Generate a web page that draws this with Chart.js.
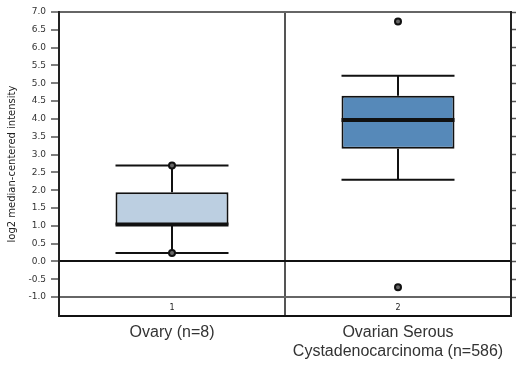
<!DOCTYPE html>
<html>
<head>
<meta charset="utf-8">
<script src="https://cdn.jsdelivr.net/npm/chart.js@4/dist/chart.umd.min.js"></script>
<style>
  html, body { margin: 0; padding: 0; background: #fff; }
  #wrap { width: 517px; height: 365px; }
</style>
</head>
<body>
<div id="wrap"><canvas id="c"></canvas></div>
<script>
// Groups and their box-plot statistics (log2 median-centered intensity)
const categories = ['Ovary (n=8)', ['Ovarian Serous', 'Cystadenocarcinoma (n=586)']];
const groupIds = ['1', '2'];
const q1Values = [1.02, 3.16];
const q3Values = [1.94, 4.65];
const medianValues = [1.04, 3.97];
const whiskerLow = [0.24, 2.29];
const whiskerHigh = [2.69, 5.21];
const pointsHigh = [2.69, 6.73];
const pointsLow = [0.24, -0.72];
const boxColors = ['#bccfe1', '#5689b9'];
const yTickValues = [-1.0, -0.5, 0.0, 0.5, 1.0, 1.5, 2.0, 2.5, 3.0, 3.5, 4.0, 4.5, 5.0, 5.5, 6.0, 6.5, 7.0];
const yMin = -1.53;
const yMax = 7.0;

const setTicks = s => { s.ticks = yTickValues.map(v => ({ value: v })); };

// Whiskers, caps, medians and group numbers drawn on the chart's own scales
const boxPlotParts = {
  id: 'boxPlotParts',
  afterDatasetDraw(chart, args) {
    if (args.index !== 0) return;
    const ctx = chart.ctx;
    const xs = chart.scales.x, ys = chart.scales.y;
    const bars = chart.getDatasetMeta(0).data;
    ctx.save();
    ctx.strokeStyle = '#111';
    ctx.lineCap = 'butt';
    categories.forEach((c, i) => {
      const cx = xs.getPixelForValue(i);
      const half = bars[i].width / 2;
      const yHi = ys.getPixelForValue(whiskerHigh[i]);
      const yLo = ys.getPixelForValue(whiskerLow[i]);
      const yQ3 = ys.getPixelForValue(q3Values[i]);
      const yQ1 = ys.getPixelForValue(q1Values[i]);
      ctx.lineWidth = 2;
      ctx.beginPath();
      ctx.moveTo(cx, yQ3); ctx.lineTo(cx, yHi);
      ctx.moveTo(cx, yQ1); ctx.lineTo(cx, yLo);
      ctx.moveTo(cx - half, yHi); ctx.lineTo(cx + half, yHi);
      ctx.moveTo(cx - half, yLo); ctx.lineTo(cx + half, yLo);
      ctx.stroke();
      const yMed = ys.getPixelForValue(medianValues[i]);
      ctx.lineWidth = 4;
      ctx.beginPath();
      ctx.moveTo(cx - half, yMed); ctx.lineTo(cx + half, yMed);
      ctx.stroke();
    });
    // group numbers in the strip below -1.0
    const area = chart.chartArea;
    const yRow = (ys.getPixelForValue(-1.0) + area.bottom) / 2 + 1;
    ctx.fillStyle = '#222';
    ctx.font = '8px "DejaVu Sans"';
    ctx.textAlign = 'center';
    ctx.textBaseline = 'middle';
    groupIds.forEach((g, i) => ctx.fillText(g, xs.getPixelForValue(i), yRow));
    ctx.restore();
  }
};

const pointStyle = {
  type: 'line',
  showLine: false,
  pointRadius: 3,
  pointBackgroundColor: '#666',
  pointBorderColor: '#111',
  pointBorderWidth: 2,
  order: 1
};

new Chart(document.getElementById('c'), {
  type: 'bar',
  data: {
    labels: categories,
    datasets: [
      {
        type: 'bar',
        data: q1Values.map((q, i) => [q, q3Values[i]]),
        backgroundColor: boxColors,
        borderColor: '#111',
        borderWidth: 2,
        borderSkipped: false,
        barPercentage: 0.5,
        categoryPercentage: 1,
        order: 3
      },
      Object.assign({ data: pointsHigh }, pointStyle),
      Object.assign({ data: pointsLow }, pointStyle)
    ]
  },
  options: {
    responsive: true,
    maintainAspectRatio: false,
    animation: false,
    layout: { padding: { top: 12, left: 0, right: 0, bottom: 0 } },
    plugins: { legend: { display: false }, tooltip: { enabled: false } },
    scales: {
      x: {
        type: 'category',
        offset: true,
        grid: {
          offset: true,
          drawTicks: false,
          color: c => (c.index === 1 ? '#555' : 'rgba(0,0,0,0)'),
          lineWidth: 2
        },
        border: { display: true, color: '#111', width: 2 },
        ticks: {
          font: { family: 'Liberation Sans', size: 16 },
          color: '#333',
          padding: 7,
          maxRotation: 0,
          autoSkip: false
        },
        afterFit: s => { s.height = 49; }
      },
      xTop: {
        type: 'category',
        position: 'top',
        grid: { display: false, drawTicks: false },
        ticks: { display: false },
        border: { display: true, color: '#666', width: 2 },
        afterFit: s => { s.height = 0; }
      },
      y: {
        type: 'linear',
        min: yMin,
        max: yMax,
        afterBuildTicks: setTicks,
        ticks: {
          callback: v => Number(v).toFixed(1),
          font: { family: 'DejaVu Sans', size: 9 },
          color: '#333',
          padding: 5
        },
        grid: {
          color: c => {
            if (!c.tick) return 'rgba(0,0,0,0)';
            if (c.tick.value === 0) return '#111';
            if (c.tick.value === -1) return '#666';
            return 'rgba(0,0,0,0)';
          },
          lineWidth: 2,
          tickLength: 8,
          tickColor: '#555',
          tickWidth: 1.5
        },
        border: { display: true, color: '#222', width: 2 },
        title: {
          display: true,
          text: 'log2 median-centered intensity',
          font: { family: 'DejaVu Sans', size: 10 },
          color: '#222',
          padding: { top: 6, bottom: 0 }
        },
        afterFit: s => { s.width = 59; }
      },
      y2: {
        type: 'linear',
        position: 'right',
        min: yMin,
        max: yMax,
        afterBuildTicks: setTicks,
        ticks: { display: false },
        grid: { drawOnChartArea: false, tickLength: 5, tickColor: '#555', tickWidth: 1.5 },
        border: { display: true, color: '#222', width: 2 },
        afterFit: s => { s.width = 5; }
      }
    }
  },
  plugins: [boxPlotParts]
});
</script>
</body>
</html>
